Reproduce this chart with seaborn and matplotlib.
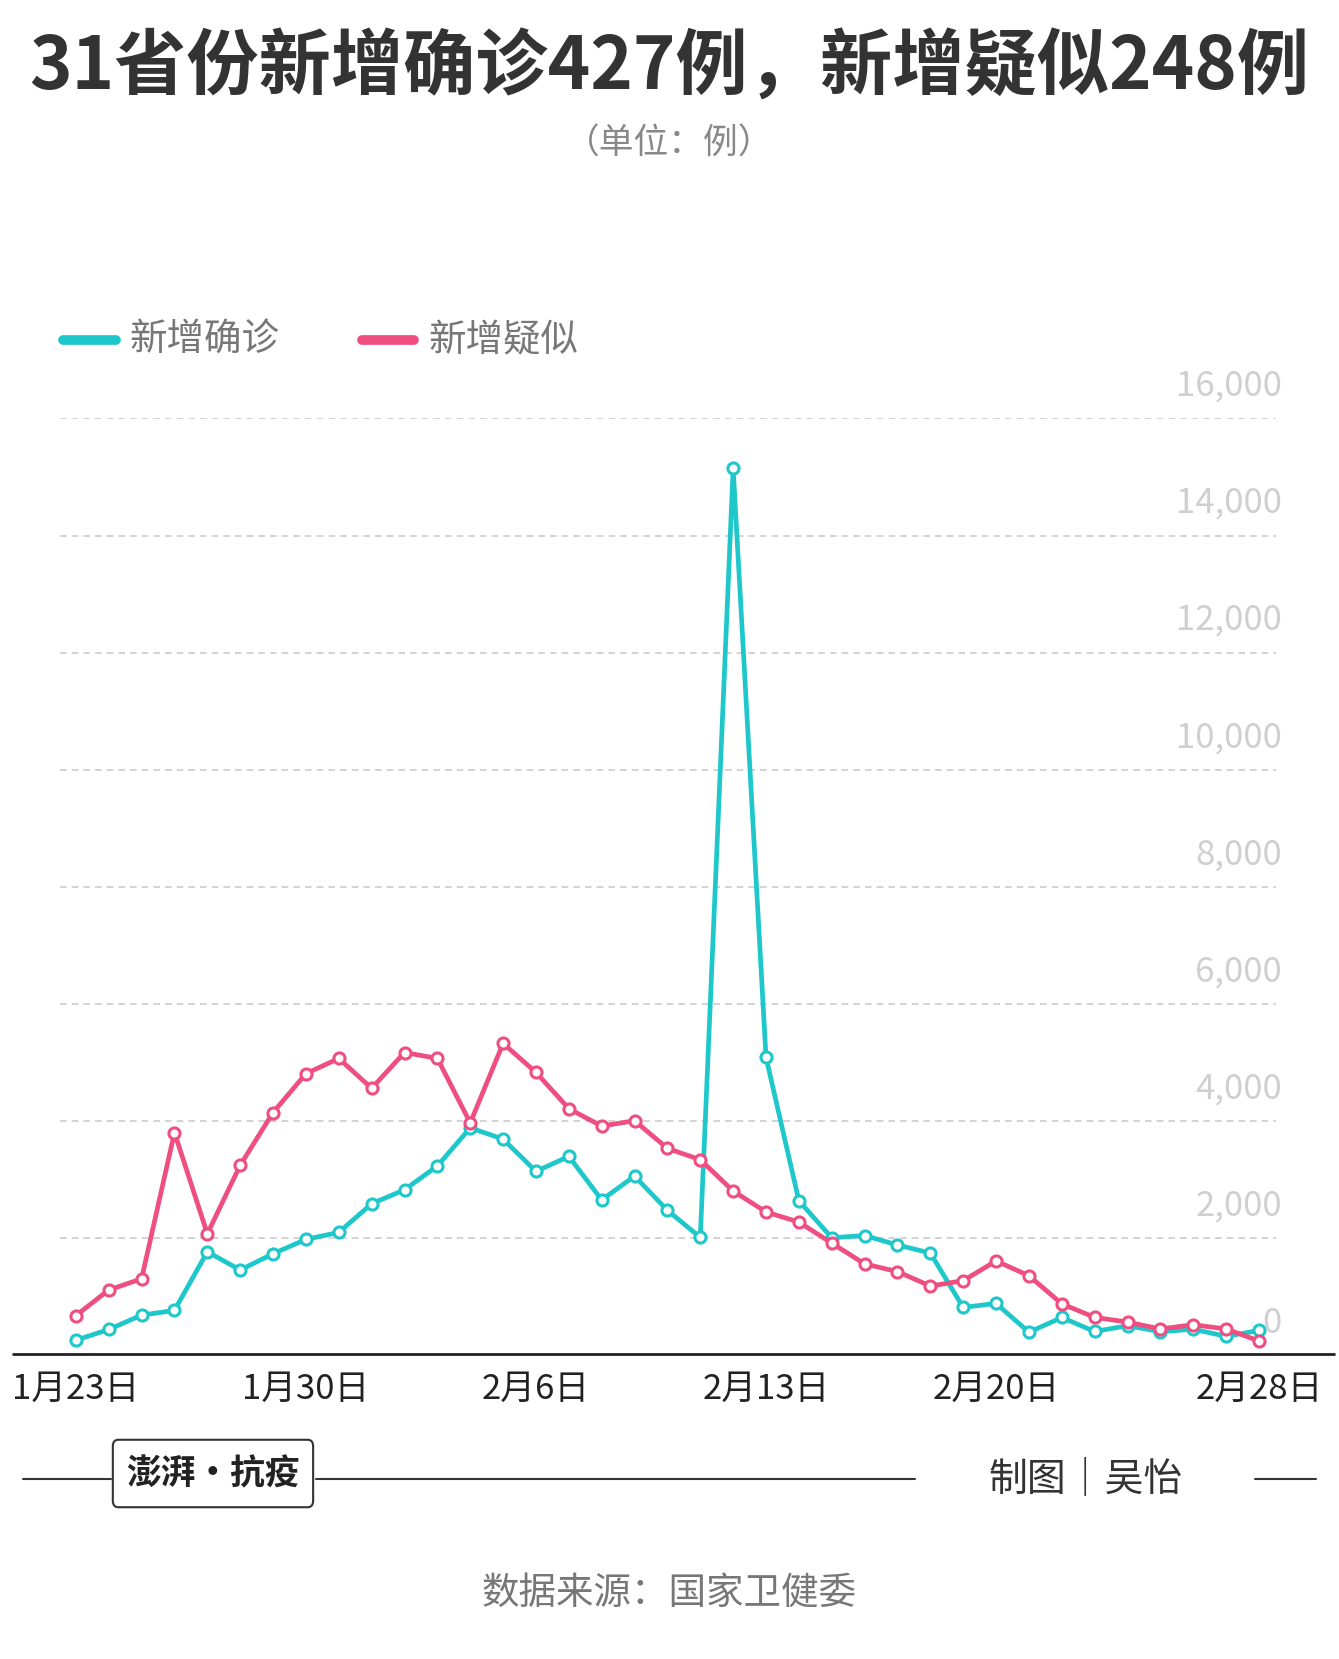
import numpy as np
import pandas as pd
import matplotlib
matplotlib.use("Agg")
import matplotlib.pyplot as plt
import seaborn as sns
from matplotlib.lines import Line2D
from matplotlib.patches import FancyBboxPatch

# ---- data ----
DAYS = list(range(37))  # 1月23日 .. 2月28日
CONFIRMED = [259, 444, 688, 769, 1771, 1459, 1737, 1982, 2102, 2590, 2829, 3235,
             3887, 3694, 3143, 3399, 2656, 3062, 2478, 2015, 15152, 5090, 2641,
             2009, 2048, 1886, 1749, 820, 889, 397, 648, 409, 508, 406, 447, 327, 427]
SUSPECTED = [680, 1118, 1309, 3806, 2077, 3248, 4148, 4812, 5072, 4562, 5173, 5072,
             3971, 5328, 4833, 4214, 3916, 4008, 3536, 3342, 2807, 2450, 2277,
             1918, 1563, 1432, 1185, 1277, 1614, 1361, 882, 650, 570, 452, 524, 452, 248]
XTICKS = [0, 7, 14, 21, 28, 36]
XLABELS = ["1月23日", "1月30日", "2月6日", "2月13日", "2月20日", "2月28日"]
YTICKS = [0, 2000, 4000, 6000, 8000, 10000, 12000, 14000, 16000]

CYAN = "#1ec8ca"
PINK = "#ef4f80"
FONT = ["Noto Sans CJK SC", "DejaVu Sans"]

sns.set_style("white")
plt.rcParams["font.family"] = FONT

W, H = 1270, 1574
fig = plt.figure(figsize=(13.39, 16.59), dpi=100)
ax = fig.add_axes([57 / W, 1 - 1286 / H, (1210 - 57) / W, (1286 - 397) / H])

df = pd.DataFrame({"day": DAYS * 2,
                   "value": CONFIRMED + SUSPECTED,
                   "kind": ["新增确诊"] * 37 + ["新增疑似"] * 37})
sns.lineplot(data=df, x="day", y="value", hue="kind",
             palette={"新增确诊": CYAN, "新增疑似": PINK},
             linewidth=3.4, marker="o", markersize=8, markerfacecolor="white",
             markeredgewidth=2.2, legend=False, ax=ax)
for line, c in zip(ax.get_lines(), [CYAN, PINK]):
    line.set_markeredgecolor(c)

ax.set_xlim(-0.48, 36.51)
ax.set_ylim(0, 16000)
for s in ax.spines.values():
    s.set_visible(False)
for y in YTICKS[1:]:
    ax.axhline(y, color="#cccccc", lw=1.2, ls=(0, (4, 3)), zorder=0)
for y in YTICKS:
    ax.text(1.005, y + 250, f"{y:,}", transform=ax.get_yaxis_transform(),
            ha="right", va="bottom", fontsize=25, color="#cfcfcf", family=FONT)
ax.set_yticks([])
ax.set_xticks(XTICKS)
ax.set_xticklabels(XLABELS, fontsize=25, color="#222222")
ax.tick_params(axis="x", length=0, pad=12)
ax.set_xlabel("")
ax.set_ylabel("")

# baseline
fig.add_artist(Line2D([12 / W, 1265 / W], [1 - 1285 / H] * 2, color="#222222", lw=2))

# titles
fig.text(0.5, 1 - 65 / H, "31省份新增确诊427例，新增疑似248例", ha="center", va="center",
         fontsize=52, fontweight="bold", color="#333333")
fig.text(0.5, 1 - 137 / H, "（单位：例）", ha="center", va="center",
         fontsize=25, color="#888888")

# legend
for x0, c, lab in [(60, CYAN, "新增确诊"), (343, PINK, "新增疑似")]:
    fig.add_artist(Line2D([x0 / W, (x0 + 50) / W], [1 - 323 / H] * 2, color=c, lw=7,
                          solid_capstyle="round"))
    fig.text((x0 + 63) / W, 1 - 323 / H, lab, ha="left", va="center",
             fontsize=27, color="#777777")

# footer
yf = 1 - 1403 / H
fig.add_artist(Line2D([22 / W, 105 / W], [yf] * 2, color="#333333", lw=1.5))
fig.add_artist(Line2D([300 / W, 868 / W], [yf] * 2, color="#333333", lw=1.5))
fig.add_artist(Line2D([1190 / W, 1248 / W], [yf] * 2, color="#333333", lw=1.5))
box = FancyBboxPatch((107 / W, 1 - 1430 / H), 190 / W, 64 / H,
                     boxstyle="round,pad=0,rounding_size=0.004", transform=fig.transFigure,
                     fill=False, ec="#333333", lw=1.5)
fig.add_artist(box)
fig.text(202 / W, 1 - 1398 / H, "澎湃·抗疫", ha="center", va="center",
         fontsize=25, fontweight="bold", color="#222222")
fig.text(1030 / W, yf, "制图｜吴怡", ha="center", va="center", fontsize=28, color="#333333")
fig.text(0.5, 1 - 1512 / H, "数据来源：国家卫健委", ha="center", va="center",
         fontsize=27, color="#777777")

fig.savefig("out.png", dpi=100, facecolor="white")
